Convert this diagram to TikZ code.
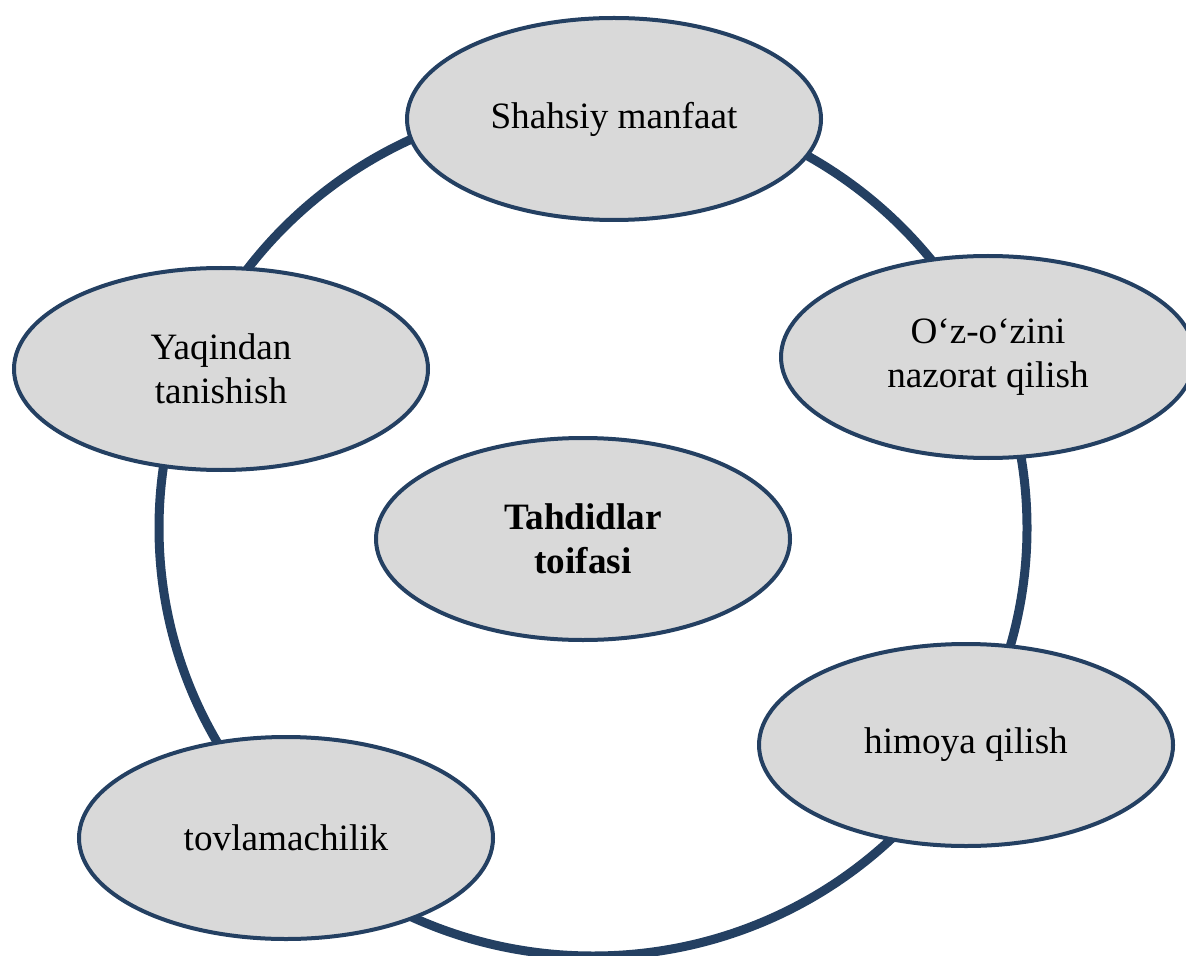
\documentclass[tikz,border=0pt]{standalone}
\usepackage{fontspec}
\setmainfont{Liberation Serif}
\usetikzlibrary{shapes.geometric}
\definecolor{ringblue}{RGB}{36,64,98}
\definecolor{bubblegray}{RGB}{217,217,217}
\begin{document}
\begin{tikzpicture}[x=0.5pt,y=-0.5pt,
  bubble/.style={ellipse, draw=ringblue, line width=2pt, fill=bubblegray,
    minimum width=207pt, minimum height=101pt, inner sep=0pt,
    align=center, font=\fontsize{18.6pt}{22pt}\selectfont},
  ring/.style={draw=ringblue, line width=4.5pt}]
\useasboundingbox (0,0) rectangle (1186,956);
\begin{scope}
\clip (0,0) rectangle (1186,956);
\draw[ring] (593,528) ellipse [x radius=217pt, y radius=214pt];
\node[bubble] (top) at (614,119) {Shahsiy manfaat};
\node[bubble] (left) at (221,369) {Yaqindan\\tanishish};
\node[bubble] (right) at (988,357) {O‘z-o‘zini\\nazorat qilish};
\node[bubble, font=\fontsize{18.6pt}{22pt}\selectfont\bfseries] (center) at (583,539) {Tahdidlar\\toifasi};
\node[bubble] (rlow) at (966,745) {himoya qilish};
\node[bubble] (blow) at (286,838) {tovlamachilik};
\end{scope}
\end{tikzpicture}
\end{document}
